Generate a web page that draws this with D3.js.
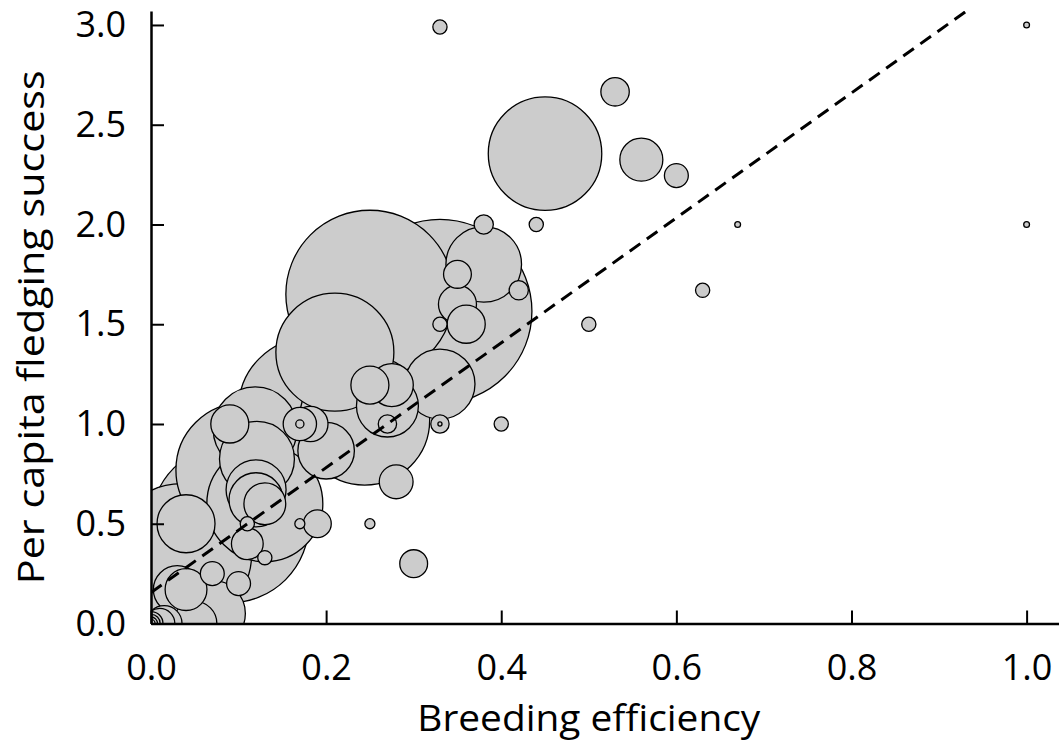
<!DOCTYPE html>
<html>
<head>
<meta charset="utf-8">
<script src="https://cdn.jsdelivr.net/npm/d3@7.9.0/dist/d3.min.js"></script>
<style>
  html, body { margin: 0; padding: 0; background: #fff; }
  svg { display: block; font-family: 'Open Sans', sans-serif; }
  .axis text { font-size: 36px; fill: #000; }
  .axis path, .axis line { stroke: #000; }
  .title { font-size: 37px; fill: #000; }
</style>
</head>
<body>
<svg width="1059" height="744"></svg>
<script>
// breeding efficiency per site
const efficiency = [
  0.33, 1.00, 0.53, 0.45, 0.56, 0.60, 0.67, 1.00, 0.44, 0.38,
  0.38, 0.35, 0.42, 0.63, 0.35, 0.36, 0.33, 0.50, 0.25, 0.33,
  0.21, 0.33, 0.25, 0.275, 0.27, 0.27, 0.33, 0.33, 0.40, 0.244,
  0.18, 0.105, 0.09, 0.17, 0.17, 0.182, 0.20, 0.121, 0.12, 0.12,
  0.13, 0.04, 0.11, 0.17, 0.19, 0.25, 0.11, 0.13, 0.07, 0.10,
  0.04, 0.03, 0.28, 0.30, 0.035, 0.13, 0.09, 0.119, 0.07, 0.05,
  0.015, 0.01, 0.0, 0.0, 0.0, 0.0
];
// per capita fledging success per site
const fledging = [
  2.99, 3.00, 2.665, 2.355, 2.325, 2.245, 2.00, 2.00, 2.00, 2.00,
  1.80, 1.75, 1.67, 1.67, 1.60, 1.50, 1.50, 1.50, 1.65, 1.565,
  1.36, 1.20, 1.195, 1.195, 1.09, 1.00, 1.00, 1.00, 1.00, 1.02,
  1.08, 0.77, 1.00, 1.00, 1.00, 1.00, 0.866, 0.825, 0.67, 0.62,
  0.60, 0.50, 0.50, 0.50, 0.50, 0.50, 0.40, 0.33, 0.25, 0.20,
  0.17, 0.17, 0.71, 0.30, 0.35, 0.60, 0.50, 0.975, 0.05, 0.0,
  0.0, 0.0, 0.0, 0.0, 0.0, 0.0
];
// breeding pairs per site (bubble size)
const pairs = [
  6, 1, 24, 383, 55, 17, 1, 1, 6, 11,
  170, 23, 11, 6, 43, 43, 6, 6, 840, 1006,
  414, 146, 43, 55, 114, 10, 10, 0.5, 6, 503,
  580, 534, 43, 33, 2, 37, 95, 167, 107, 87,
  52, 100, 6, 3, 23, 3, 30, 6, 17, 17,
  52, 68, 34, 23, 583, 400, 742, 210, 130, 58,
  38, 27, 17, 10, 5, 2
];

const xTicks = [0, 0.2, 0.4, 0.6, 0.8, 1.0];
const yTicks = [0, 0.5, 1.0, 1.5, 2.0, 2.5, 3.0];

// regression line: intercept, slope
const fitIntercept = 0.155;
const fitSlope = 3.13;

const svg = d3.select('svg');
const m = { left: 151, right: 1059, top: 11, bottom: 623.5 };

const x = d3.scaleLinear().domain([0, 1.037]).range([m.left, m.right]);
const y = d3.scaleLinear().domain([0, 3.07]).range([m.bottom, m.top]);
const r = d3.scaleSqrt().domain([0, 1000]).range([0, 91.7]);

const data = efficiency.map((e, i) => ({ x: e, y: fledging[i], n: pairs[i] }))
  .sort((a, b) => b.n - a.n);

svg.append('clipPath').attr('id', 'plot')
  .append('rect')
  .attr('x', m.left).attr('y', m.top)
  .attr('width', m.right - m.left).attr('height', m.bottom - m.top);

const plot = svg.append('g').attr('clip-path', 'url(#plot)');

plot.selectAll('circle')
  .data(data)
  .enter()
  .append('circle')
  .attr('cx', d => x(d.x))
  .attr('cy', d => y(d.y))
  .attr('r', d => r(d.n))
  .attr('fill', '#cccccc')
  .attr('stroke', '#000')
  .attr('stroke-width', 1.3);

const xEnd = (3.07 - fitIntercept) / fitSlope;
plot.append('line')
  .attr('x1', x(0)).attr('y1', y(fitIntercept))
  .attr('x2', x(xEnd)).attr('y2', y(fitIntercept + fitSlope * xEnd))
  .attr('stroke', '#000')
  .attr('stroke-width', 3)
  .attr('stroke-dasharray', '13,8');

svg.append('g')
  .attr('class', 'axis')
  .attr('transform', `translate(0,${m.bottom})`)
  .call(d3.axisBottom(x).tickValues(xTicks).tickFormat(d3.format('.1f'))
    .tickSizeInner(-13).tickSizeOuter(0).tickPadding(31))
  .call(g => g.select('.domain').attr('stroke-width', 2.5))
  .call(g => g.selectAll('.tick line').attr('stroke-width', 2));

svg.append('g')
  .attr('class', 'axis')
  .attr('transform', `translate(${m.left},0)`)
  .call(d3.axisLeft(y).tickValues(yTicks).tickFormat(d3.format('.1f'))
    .tickSizeInner(-13).tickSizeOuter(0).tickPadding(25))
  .call(g => g.select('.domain').attr('stroke-width', 2.5))
  .call(g => g.selectAll('.tick line').attr('stroke-width', 2));

svg.selectAll('.axis').attr('font-family', null).attr('font-size', null);

svg.append('text')
  .attr('class', 'title')
  .attr('x', (x(0) + x(1)) / 2)
  .attr('y', 731)
  .attr('text-anchor', 'middle')
  .attr('textLength', 343)
  .attr('lengthAdjust', 'spacingAndGlyphs')
  .text('Breeding efficiency');

svg.append('text')
  .attr('class', 'title')
  .attr('transform', `translate(44,${(y(0) + y(3)) / 2 + 3}) rotate(-90)`)
  .attr('text-anchor', 'middle')
  .attr('textLength', 514)
  .attr('lengthAdjust', 'spacingAndGlyphs')
  .text('Per capita fledging success');
</script>
</body>
</html>
